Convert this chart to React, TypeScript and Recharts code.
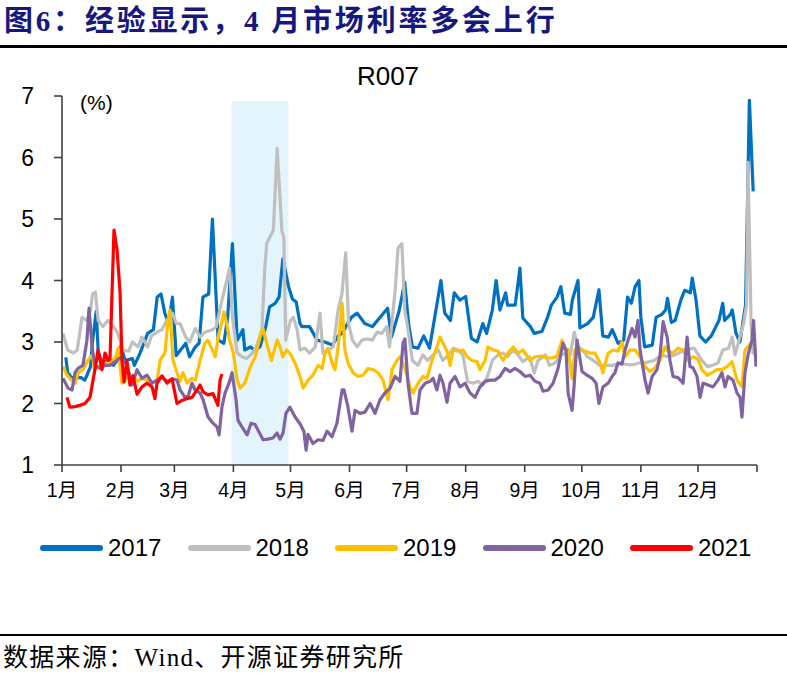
import React from 'react';
import { LineChart, Line, XAxis, YAxis, ReferenceArea } from 'recharts';

const monthLabels = ['1月', '2月', '3月', '4月', '5月', '6月', '7月', '8月', '9月', '10月', '11月', '12月'];
const monthStartDays = [0, 31, 59, 90, 120, 151, 181, 212, 243, 273, 304, 334, 365];
const yTicks = [1, 2, 3, 4, 5, 6, 7];
const aprilWindow = [89, 119];
const seriesNames = ['2017', '2018', '2019', '2020', '2021'];
const seriesColors = ['#0070C0', '#BFBFBF', '#FFC000', '#8064A2', '#FF0000'];

const r2017: [number, number][] = [
  [2, 2.75], [3, 2.5], [5, 2.42], [8, 2.42], [10, 2.42], [12, 2.38], [15, 2.6], [16, 3.0], [18, 3.5], [19, 2.85],
  [21, 2.66], [24, 2.7], [27, 2.62], [29, 2.7], [31, 2.95], [33, 2.7], [37, 2.73], [38, 2.62], [41, 2.82], [45, 3.14],
  [48, 3.2], [50, 3.73], [52, 3.78], [54, 3.47], [56, 3.3], [58, 3.73], [60, 2.78], [63, 2.9], [65, 2.98], [67, 2.76],
  [70, 2.92], [72, 2.98], [74, 3.73], [77, 3.78], [79, 5.0], [82, 3.03], [85, 2.98], [87, 3.4], [89.5, 4.6], [92, 3.03],
  [95, 3.2], [96, 2.87], [99, 2.92], [101, 2.87], [104, 2.92], [107, 3.25], [109, 3.57], [112, 3.63], [114, 3.73], [116, 4.35],
  [119, 3.9], [121, 3.7], [123, 3.65], [125, 3.3], [126, 3.25], [130, 3.25], [134, 3.03], [138, 3.0], [142, 2.95], [145, 3.1],
  [147, 3.14], [152, 3.4], [155, 3.47], [159, 3.3], [163, 3.25], [167, 3.4], [171, 3.55], [173, 3.08], [177, 3.5], [180, 3.97],
  [182, 3.3], [184, 2.92], [187, 2.9], [190, 3.1], [193, 2.9], [199, 4.0], [201, 3.47], [204, 3.35], [206, 3.8], [209, 3.68],
  [212, 3.74], [215, 3.06], [218, 3.0], [221, 3.3], [223, 3.14], [226, 3.52], [228, 4.0], [230, 3.52], [233, 3.8], [234, 3.6],
  [238, 3.6], [240.5, 4.2], [242, 3.39], [246, 3.25], [248, 3.14], [252, 3.17], [255, 3.4], [257, 3.6], [260, 3.73], [262, 3.9],
  [264, 3.47], [267, 3.45], [268, 3.68], [271, 4.0], [272, 3.23], [276, 3.3], [279, 3.4], [282, 3.85], [284, 3.1], [287, 3.08],
  [289, 3.2], [292, 2.98], [295, 3.03], [297, 3.73], [299, 3.63], [301, 3.9], [303, 4.0], [304, 3.4], [306, 2.92], [310, 2.95],
  [312, 3.4], [315, 3.45], [317, 3.52], [318, 3.71], [320, 3.32], [322, 3.35], [325, 3.68], [327, 3.84], [330, 3.8], [331, 4.04],
  [333, 3.68], [335, 3.1], [338, 3.0], [341, 3.1], [345, 3.35], [347, 3.63], [348, 3.35], [351, 3.45], [352, 3.52], [354, 3.14],
  [356, 3.0], [359, 3.6], [361, 6.93], [363, 5.45],
];

const r2018: [number, number][] = [
  [0.5, 3.14], [3, 2.87], [6, 2.82], [8, 2.87], [10.5, 3.4], [13, 3.35], [15, 3.52], [16, 3.78], [17.5, 3.81], [19, 3.35],
  [21.5, 3.25], [24, 3.35], [27, 3.25], [29, 3.16], [32, 2.87], [35, 2.85], [37, 3.0], [40, 2.92], [42, 3.08], [45, 2.92],
  [47, 3.1], [50, 3.16], [52.5, 3.2], [55, 3.35], [58, 3.47], [60, 3.3], [62, 3.3], [65, 3.08], [67, 3.0], [70, 3.22],
  [72.5, 3.08], [75, 3.16], [79, 3.2], [81, 3.25], [84, 3.68], [86.5, 4.0], [88, 4.2], [89.5, 3.4], [92, 2.82], [94.5, 2.76],
  [97, 2.73], [100, 2.82], [102, 2.92], [105, 3.2], [106.5, 4.2], [107.5, 4.6], [111, 4.82], [113, 6.15], [115.5, 4.8], [116.5, 4.7],
  [117.5, 3.03], [120, 3.35], [121.5, 3.4], [123.5, 3.2], [125, 2.87], [127.5, 2.9], [130, 2.82], [133, 2.92], [135.5, 3.47], [137, 2.82],
  [140, 2.87], [142.5, 2.92], [145, 3.52], [147, 3.78], [149, 4.45], [150.5, 3.3], [152.5, 3.03], [155, 2.92], [157.5, 3.03], [160, 3.05],
  [163, 3.03], [165.5, 3.16], [168, 3.14], [170.5, 3.25], [172, 2.92], [175, 3.85], [176.5, 4.53], [178.5, 4.6], [180, 3.52], [181.5, 3.25],
  [184, 2.7], [187, 2.62], [189.5, 2.79], [192, 2.7], [195, 2.79], [197.5, 2.87], [200, 2.7], [203, 2.79], [205.5, 2.9], [208, 2.87],
  [210.5, 2.79], [213, 2.36], [216, 2.33], [218.5, 2.36], [221, 2.3], [223.5, 2.44], [226, 2.7], [229, 2.79], [231.5, 2.82], [234, 2.76],
  [237, 2.87], [239.5, 2.79], [242, 2.68], [245.5, 2.76], [248, 2.5], [250, 2.7], [254, 2.79], [256, 2.62], [259, 2.66], [262, 2.79],
  [265, 2.82], [267, 2.79], [269, 3.16], [271, 2.92], [273.5, 2.87], [276, 2.76], [279, 2.7], [282.5, 2.62], [286, 2.62], [289.5, 2.62],
  [293, 2.66], [297, 2.63], [300, 2.63], [303, 2.66], [306, 2.66], [311, 2.7], [315, 2.79], [318, 2.76], [322, 2.79], [327, 2.87],
  [332, 2.9], [336, 2.7], [339, 2.6], [341.5, 2.62], [344.5, 2.66], [347, 2.87], [350, 2.9], [352, 3.08], [353.5, 2.79], [356, 3.08],
  [358, 3.3], [359.5, 3.6], [360.3, 5.92], [361.9, 3.3], [363, 2.8],
];

const r2019: [number, number][] = [
  [0.5, 2.6], [2.6, 2.46], [5, 2.38], [7, 2.33], [8.5, 2.5], [11, 2.55], [13.5, 2.7], [16, 2.79], [17, 2.55], [20, 2.62],
  [22.5, 2.66], [25, 2.66], [28, 2.74], [29.5, 2.9], [31.5, 2.33], [34, 2.41], [37, 2.46], [39.5, 2.36], [42, 2.41], [44.5, 2.38],
  [47, 2.33], [50, 2.38], [51.5, 2.7], [54, 2.82], [55.7, 3.35], [56.7, 3.52], [58.3, 2.7], [60.4, 2.5], [62, 2.36], [63.6, 2.5],
  [65.7, 2.33], [68, 2.41], [70, 2.38], [72.5, 2.7], [75, 2.98], [76.5, 3.03], [79, 2.87], [80.5, 2.76], [82, 3.08], [84, 3.33],
  [85, 3.49], [86.5, 3.3], [88, 3.03], [90, 2.82], [92, 2.38], [93.5, 2.25], [96, 2.33], [99, 2.6], [101.5, 2.76], [104, 3.08],
  [105.5, 3.22], [107.5, 2.98], [110, 2.7], [113, 3.03], [114.5, 2.92], [116, 2.76], [118, 2.87], [120, 2.8], [122.4, 2.66], [125, 2.44],
  [126.6, 2.25], [129.2, 2.38], [131.8, 2.46], [134.5, 2.62], [136.6, 2.57], [138.1, 2.82], [139.7, 2.9], [141.8, 2.66], [143.4, 2.55], [145, 2.92],
  [147.1, 3.63], [148.6, 2.87], [150.2, 2.66], [152.8, 2.5], [155.5, 2.44], [158.1, 2.46], [160.7, 2.57], [163.3, 2.55], [166, 2.5], [168.6, 2.38],
  [171.2, 2.06], [173.3, 2.55], [175.9, 2.7], [177.5, 2.76], [180.1, 2.57], [182.8, 2.27], [184.3, 2.17], [187, 2.33], [189.6, 2.44], [191.7, 2.41],
  [194.3, 2.7], [196.9, 2.92], [198.5, 3.08], [200.1, 2.98], [202.2, 2.85], [203.8, 2.62], [205.4, 2.87], [208, 2.85], [210.6, 2.87], [212.7, 2.76],
  [215.3, 2.7], [218, 2.68], [219.5, 2.55], [222.2, 2.7], [223.7, 2.92], [226.4, 2.87], [229, 2.85], [231.6, 2.7], [234.2, 2.82], [236.9, 2.92],
  [239.5, 2.82], [242.1, 2.87], [245.8, 2.7], [248.4, 2.76], [252.1, 2.77], [254.7, 2.74], [257.4, 2.74], [260, 2.77], [262.6, 3.03], [264.2, 2.87],
  [265.8, 2.88], [267.9, 2.4], [269.4, 2.87], [272, 2.87], [274.7, 2.85], [277.3, 2.82], [279.9, 2.82], [282.6, 2.66], [284.1, 2.5], [286.8, 2.82],
  [289.4, 2.87], [292, 2.85], [294.1, 3.0], [295.7, 2.76], [298.3, 2.87], [300.9, 2.87], [303.6, 2.76], [306.2, 2.6], [308.8, 2.52], [311.4, 2.58],
  [314.1, 2.7], [316.7, 2.92], [318.3, 2.85], [320.9, 2.82], [323.5, 2.9], [326.2, 2.87], [328.8, 2.7], [331.4, 2.76], [334, 2.72], [336.1, 2.55],
  [338.8, 2.46], [341.4, 2.5], [344, 2.55], [346.6, 2.55], [349.3, 2.6], [351.9, 2.68], [354.5, 2.38], [357.1, 2.27], [358.7, 2.87], [361, 2.95],
  [364, 3.06],
];

const r2020: [number, number][] = [
  [0.5, 2.41], [3.2, 2.25], [5.3, 2.22], [6.8, 2.5], [8.4, 2.57], [11, 2.62], [13.1, 3.03], [14.2, 3.55], [15.8, 2.92], [17.3, 2.62],
  [20, 2.57], [22.6, 2.62], [25.2, 2.62], [27.8, 2.68], [30.5, 2.74], [33.1, 2.68], [34.7, 2.55], [36.8, 2.3], [39.4, 2.55], [42, 2.41],
  [44.6, 2.46], [47.3, 2.33], [49.9, 2.38], [52.5, 2.44], [55.1, 2.36], [57.8, 2.4], [60.4, 2.38], [62, 2.22], [64.6, 2.1], [66.2, 2.12],
  [68.3, 2.33], [69.9, 2.22], [72.5, 2.17], [74.1, 2.06], [76.7, 1.78], [79.3, 1.68], [81.4, 1.62], [82.5, 1.49], [84, 1.94], [85.6, 2.17],
  [87.7, 2.33], [89.3, 2.5], [91.4, 2.06], [92.4, 1.73], [94.5, 1.62], [97.2, 1.49], [99.3, 1.68], [101.4, 1.66], [102.9, 1.57], [105.6, 1.41],
  [108.2, 1.42], [110.8, 1.44], [112.9, 1.52], [114.5, 1.42], [116.1, 1.52], [117.6, 1.84], [119.7, 1.94], [122.4, 1.78], [125, 1.67], [127, 1.55],
  [128.2, 1.24], [129.2, 1.5], [131.8, 1.35], [134.5, 1.41], [137.1, 1.4], [139.2, 1.55], [141.8, 1.46], [144.4, 1.68], [147.1, 2.22], [148.1, 2.22],
  [150.2, 1.94], [152.3, 1.55], [153.9, 1.89], [156.5, 1.84], [159.1, 1.86], [161.8, 2.0], [164.4, 1.84], [167, 2.06], [169.6, 2.17], [172.3, 2.25],
  [174.9, 2.44], [177.5, 2.36], [179.1, 2.98], [180.1, 3.05], [181.7, 2.33], [183.8, 1.84], [186.4, 1.84], [188, 2.22], [190.7, 2.33], [193.3, 2.36],
  [194.9, 2.41], [196.9, 2.22], [198.5, 2.46], [200.1, 2.33], [202.2, 2.02], [203.8, 2.33], [206.4, 2.44], [209, 2.27], [211.7, 2.33], [214.3, 2.17],
  [216.9, 2.1], [219.5, 2.27], [222.2, 2.36], [224.8, 2.38], [227.4, 2.38], [230, 2.44], [232.7, 2.57], [235.3, 2.52], [237.9, 2.57], [240.5, 2.52],
  [243.2, 2.44], [245.8, 2.46], [248.4, 2.36], [251, 2.33], [252.6, 2.2], [255.3, 2.22], [257.9, 2.33], [260.5, 2.57], [263.1, 2.98], [264.7, 2.87],
  [265.8, 2.17], [267.9, 1.89], [268.9, 2.27], [270.5, 3.03], [273.1, 2.52], [275.7, 2.46], [278.4, 2.41], [280.5, 2.33], [282, 2.0], [284.1, 2.27],
  [286.8, 2.33], [288.9, 2.44], [290.4, 2.5], [292, 2.66], [294.1, 2.64], [295.7, 2.87], [297.3, 3.03], [299.4, 3.22], [300.9, 3.08], [302.5, 3.35],
  [303.6, 2.87], [306.2, 2.38], [307.8, 2.17], [309.9, 2.44], [312.5, 2.55], [314.1, 2.79], [315.7, 3.33], [317.8, 3.08], [319.3, 2.7], [320.9, 2.44],
  [323.5, 2.42], [326.2, 2.33], [328.3, 3.08], [329.8, 2.6], [331.4, 2.58], [333.5, 2.44], [335.1, 2.1], [336.7, 2.33], [339.3, 2.3], [341.9, 2.27],
  [344.5, 2.38], [346.6, 2.5], [348.2, 2.27], [349.8, 2.44], [352.4, 2.38], [354.5, 2.17], [356.1, 2.1], [357.1, 1.78], [358.7, 2.5], [360.3, 2.79],
  [362.4, 3.03], [363.2, 3.35], [364.5, 2.6],
];

const r2021: [number, number][] = [
  [2.6, 2.1], [4.2, 1.94], [6.8, 1.95], [9.5, 1.97], [12.1, 2.0], [14.7, 2.1], [16.3, 2.38], [17.9, 2.66], [18.9, 2.87], [21, 2.55],
  [22.6, 2.82], [24.2, 2.7], [25.2, 2.72], [27.3, 4.82], [28.9, 4.5], [30.5, 3.8], [31.5, 2.7], [32.6, 2.35], [34.1, 2.7], [35.7, 2.3],
  [37.3, 2.45], [39.4, 2.15], [42, 2.27], [44.6, 2.33], [47.3, 2.27], [48.8, 2.08], [49.9, 2.33], [52.5, 2.45], [55.1, 2.33], [57.8, 2.4],
  [60.4, 2.0], [63, 2.05], [65.7, 2.08], [68.3, 2.1], [70.9, 2.22], [72.5, 2.3], [74.1, 2.19], [76.7, 2.14], [79.3, 2.16], [81.9, 1.97],
  [83, 2.38], [84, 2.48],
];

const seriesRaw = [r2017, r2018, r2019, r2020, r2021];

const sansFont = '"Liberation Sans", Arial, "Noto Sans CJK SC", sans-serif';
const serifFont = '"Liberation Serif", "Times New Roman", "Noto Sans CJK SC", serif';

const monthTick = (d: number) => {
  const i = monthStartDays.indexOf(d);
  return i >= 0 && i < monthLabels.length ? monthLabels[i] : '';
};

export default function App() {
  const series = seriesRaw.map((arr) => arr.map(([d, v]) => ({ d, v })));
  return (
    <div style={{ position: 'absolute', left: 0, top: 0, width: 787, height: 676, background: '#fff', overflow: 'hidden' }}>
      <div
        style={{
          position: 'absolute', left: 4, top: 1, fontFamily: serifFont, fontWeight: 'bold', fontSize: 29,
          color: '#17177F', letterSpacing: 2.8, whiteSpace: 'nowrap', lineHeight: '40px',
        }}
      >
        图6：经验显示，4 月市场利率多会上行
      </div>
      <div style={{ position: 'absolute', left: 0, top: 45, width: 787, height: 3, background: '#000' }} />

      <div style={{ position: 'absolute', left: 0, top: 0 }}>
        <LineChart width={787} height={520} margin={{ top: 96, right: 30, bottom: 15, left: 0 }}>
          <ReferenceArea x1={aprilWindow[0]} x2={aprilWindow[1]} y1={1} y2={6.92} fill="#E3F4FC" fillOpacity={1} stroke="none" ifOverflow="hidden" />
          <XAxis
            type="number"
            dataKey="d"
            domain={[0, 365]}
            ticks={monthStartDays}
            interval={0}
            tickFormatter={monthTick}
            height={40}
            tickSize={7}
            tickMargin={11}
            tick={{ fontSize: 19.5, fill: '#000', fontFamily: sansFont }}
            axisLine={{ stroke: '#404040', strokeWidth: 1.6 }}
            tickLine={{ stroke: '#404040', strokeWidth: 1.6 }}
            allowDataOverflow
          />
          <YAxis
            type="number"
            domain={[1, 7]}
            ticks={yTicks}
            interval={0}
            width={62}
            tickSize={8}
            tickMargin={20}
            tick={{ fontSize: 23, fill: '#000', fontFamily: sansFont }}
            axisLine={{ stroke: '#404040', strokeWidth: 1.6 }}
            tickLine={{ stroke: '#404040', strokeWidth: 1.6 }}
            allowDataOverflow
          />
          {series.map((data, i) => (
            <Line
              key={seriesNames[i]}
              data={data}
              dataKey="v"
              type="linear"
              stroke={seriesColors[i]}
              strokeWidth={3.2}
              dot={false}
              activeDot={false}
              isAnimationActive={false}
              strokeLinejoin="round"
            />
          ))}
        </LineChart>
      </div>

      <div style={{ position: 'absolute', left: 388, top: 61, transform: 'translateX(-50%)', fontFamily: sansFont, fontSize: 26, color: '#000', whiteSpace: 'nowrap' }}>
        R007
      </div>
      <div style={{ position: 'absolute', left: 80, top: 91, fontFamily: sansFont, fontSize: 21, color: '#000' }}>(%)</div>

      {seriesNames.map((name, i) => (
        <div key={name} style={{ position: 'absolute', left: 40 + i * 147.5, top: 533, display: 'flex', alignItems: 'center' }}>
          <div style={{ width: 63, height: 5.5, borderRadius: 3, background: seriesColors[i] }} />
          <span style={{ marginLeft: 5, fontFamily: sansFont, fontSize: 24, color: '#000', lineHeight: '30px' }}>{name}</span>
        </div>
      ))}

      <div style={{ position: 'absolute', left: 0, top: 634, width: 787, height: 2, background: '#000' }} />
      <div style={{ position: 'absolute', left: 3, top: 643, fontFamily: serifFont, fontSize: 25, letterSpacing: 1.3, color: '#000', whiteSpace: 'nowrap', lineHeight: '30px' }}>
        数据来源：Wind、开源证券研究所
      </div>
    </div>
  );
}
